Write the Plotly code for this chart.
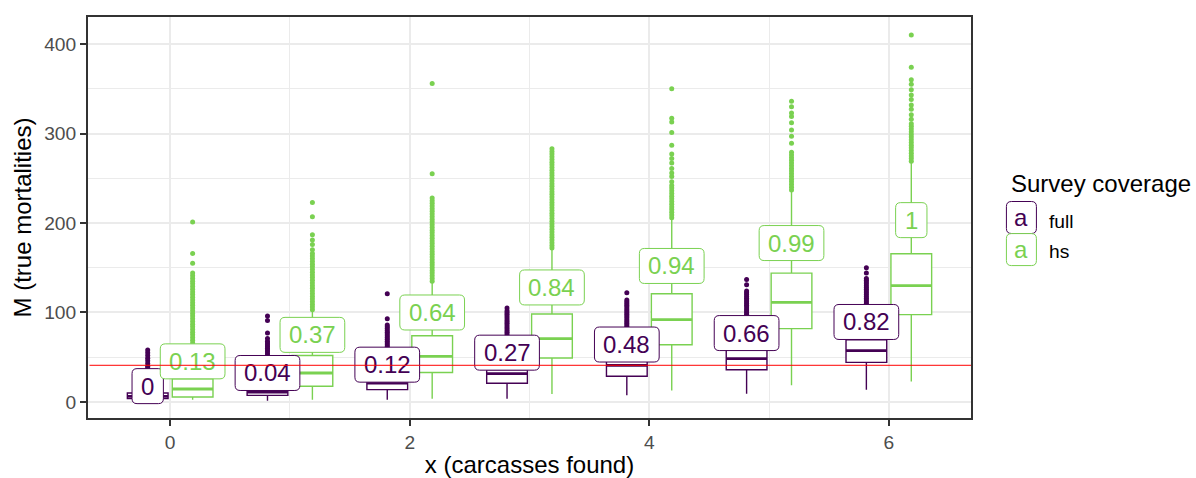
import plotly.graph_objects as go

# ---------------- data ----------------
x_vals = [0, 1, 2, 3, 4, 5, 6]
x_ticks = [0, 2, 4, 6]
y_ticks = [0, 100, 200, 300, 400]
y_minor = [50, 150, 250, 350]
x_minor = [1, 3, 5]

# full coverage box stats
full_q1 = [3.7, 7.4, 13.8, 21, 28.7, 36.1, 44.3]
full_med = [6.3, 11, 21, 31.7, 41, 48.4, 57.4]
full_q3 = [10, 16, 28, 36, 46, 58.5, 69.6]
full_lo = [0, 1.5, 2.6, 3.7, 7.4, 9.3, 13.8]
full_hi = [19, 29, 49, 58, 74, 92, 107]

# hs coverage box stats
hs_q1 = [5.6, 17.5, 33, 49.2, 64, 82, 97.6]
hs_med = [14.5, 32.4, 51, 70.8, 92, 111.4, 130]
hs_q3 = [26, 52, 74, 98.3, 121, 144, 165.7]
hs_lo = [2.6, 2.6, 3.7, 9, 12.7, 18.6, 23]
hs_hi = [56, 101, 133, 170, 204, 235, 267]

# outliers
full_out = [
    [20, 22, 24, 26, 28, 30, 32, 34, 36, 38, 40, 43, 46, 49, 52, 55, 58],
    [30, 32, 34, 36, 38, 40, 42, 44, 46, 48, 50, 52, 54, 56, 58, 60, 62, 64, 66, 68, 71, 77, 91, 96],
    [50, 52, 54, 56, 58, 60, 62, 64, 66, 68, 70, 72, 74, 76, 78, 80, 82, 84, 86, 93, 121],
    [60, 62, 64, 66, 68, 70, 72, 74, 76, 78, 80, 82, 84, 86, 88, 90, 92, 94, 96, 98, 100, 102, 105],
    [76, 78, 80, 82, 84, 86, 88, 90, 92, 94, 96, 98, 100, 102, 104, 106, 108, 110, 112, 114, 122],
    [94, 96, 98, 100, 102, 104, 106, 108, 110, 112, 114, 116, 118, 120, 122, 124, 131, 137],
    [108, 110, 112, 114, 116, 118, 120, 122, 124, 126, 128, 130, 132, 134, 136, 138, 144, 150],
]
hs_out = [
    [57, 60, 63, 66, 69, 72, 75, 78, 81, 84, 87, 90, 93, 96, 99, 102, 105, 108, 111, 114, 117,
     120, 123, 126, 129, 132, 135, 138, 141, 144, 155, 166, 201],
    [103, 106, 109, 112, 115, 118, 121, 124, 127, 130, 133, 136, 139, 142, 145, 148, 151, 154,
     157, 160, 163, 166, 170, 176, 181, 187, 207, 223],
    [135, 138, 141, 144, 147, 150, 153, 156, 159, 162, 165, 168, 171, 174, 177, 180, 183, 186,
     189, 192, 195, 198, 201, 204, 207, 210, 213, 216, 219, 222, 225, 228, 255, 356],
    [172, 175, 178, 181, 184, 187, 190, 193, 196, 199, 202, 205, 208, 211, 214, 217, 220, 223,
     226, 229, 232, 235, 238, 241, 244, 247, 250, 253, 256, 259, 262, 265, 268, 271, 274, 277,
     280, 283],
    [206, 209, 212, 215, 218, 221, 224, 227, 230, 233, 236, 239, 242, 246, 252, 256, 261, 267,
     272, 277, 287, 301, 313, 317, 350],
    [237, 240, 243, 246, 249, 252, 255, 258, 261, 264, 267, 270, 273, 276, 279, 289, 297, 304,
     312, 319, 323, 330, 336],
    [269, 272, 275, 278, 281, 284, 287, 290, 293, 296, 299, 302, 305, 308, 311, 316, 321, 327,
     332, 338, 343, 349, 355, 360, 374, 410],
]

# probability labels
full_labels = ["0", "0.04", "0.12", "0.27", "0.48", "0.66", "0.82"]
full_label_y = [17.7, 32.4, 41.7, 55.1, 64.2, 77, 89.4]
hs_labels = ["0.13", "0.37", "0.64", "0.84", "0.94", "0.99", "1"]
hs_label_y = [45.4, 75, 100, 128, 152, 177.6, 203.2]

ref_line = 41
series_names = ["full", "hs"]
legend_title = "Survey coverage"

# ---------------- style ----------------
PURPLE = "#440154"
GREEN = "#7AD151"
FONT = "Liberation Sans, Arial, sans-serif"
DODGE = 0.1875
BOXW = 0.34
XR = [-0.686, 6.686]
YR = [-17.9, 430.2]
LAB_H = 35
RADIUS = 5

fig = go.Figure()

groups = [
    (PURPLE, -1, full_q1, full_med, full_q3, full_lo, full_hi, full_out, full_labels, full_label_y),
    (GREEN, 1, hs_q1, hs_med, hs_q3, hs_lo, hs_hi, hs_out, hs_labels, hs_label_y),
]

annotations = []
shapes = []


def text_w(s):
    return sum(6.67 if c == "." else 13.35 for c in s)


def round_rect(w, h, r):
    a, b = w / 2, h / 2
    return (f"M {-a + r},{-b} L {a - r},{-b} Q {a},{-b} {a},{-b + r} "
            f"L {a},{b - r} Q {a},{b} {a - r},{b} L {-a + r},{b} "
            f"Q {-a},{b} {-a},{b - r} L {-a},{-b + r} Q {-a},{-b} {-a + r},{-b} Z")


for col, sign, q1, med, q3, lo, hi, outs, labs, laby in groups:
    pos = [x + sign * DODGE for x in x_vals]
    fig.add_trace(go.Box(
        x=pos, q1=q1, median=med, q3=q3, lowerfence=lo, upperfence=hi,
        width=BOXW, line=dict(color=col, width=1.4), fillcolor="white",
        whiskerwidth=0, boxpoints=False, showlegend=False, hoverinfo="skip",
        orientation="v",
    ))
    mx, my = [], []
    for p, m in zip(pos, med):
        mx += [p - BOXW / 2, p + BOXW / 2, None]
        my += [m, m, None]
    fig.add_trace(go.Scatter(x=mx, y=my, mode="lines", line=dict(color=col, width=2.8),
                             showlegend=False, hoverinfo="skip"))
    ox, oy = [], []
    for p, vals in zip(pos, outs):
        ox += [p] * len(vals)
        oy += vals
    fig.add_trace(go.Scatter(x=ox, y=oy, mode="markers",
                             marker=dict(color=col, size=5, line=dict(width=0)),
                             showlegend=False, hoverinfo="skip"))
    for p, t, ly in zip(pos, labs, laby):
        w = text_w(t) + 18
        shapes.append(dict(
            type="path", xref="x", yref="y", xsizemode="pixel", ysizemode="pixel",
            xanchor=p, yanchor=ly, path=round_rect(w, LAB_H, RADIUS),
            fillcolor="white", line=dict(color=col, width=1), layer="above",
        ))
        annotations.append(dict(
            x=p, y=ly, xref="x", yref="y", text=t, showarrow=False,
            font=dict(size=24, color=col, family=FONT),
            xanchor="center", yanchor="middle",
        ))

# reference line drawn on top of everything (as an annotation arrow)
annotations.append(dict(
    x=XR[1], y=ref_line, xref="x", yref="y", ax=XR[0], ay=ref_line, axref="x", ayref="y",
    text="", showarrow=True, arrowhead=0, arrowwidth=1, arrowcolor="#FF0000",
    standoff=0, startstandoff=0, font=dict(size=1),
))

# manual legend (label-style keys)
key_cols = [PURPLE, GREEN]
key_y = [0.5, 0.42]
text_y = [0.490, 0.416]
annotations.append(dict(
    x=1.0431, y=0.586, xref="paper", yref="paper", text=legend_title, showarrow=False,
    xanchor="left", yanchor="middle", font=dict(size=24, color="black", family=FONT)))
for col, ky, ty, nm in zip(key_cols, key_y, text_y, series_names):
    shapes.append(dict(
        type="path", xref="paper", yref="paper", xsizemode="pixel", ysizemode="pixel",
        xanchor=1.0571, yanchor=ky, path=round_rect(30, 32, RADIUS),
        fillcolor="white", line=dict(color=col, width=1), layer="above",
    ))
    annotations.append(dict(
        x=1.0571, y=ky, xref="paper", yref="paper", text="a", showarrow=False,
        xanchor="center", yanchor="middle", font=dict(size=24, color=col, family=FONT)))
    annotations.append(dict(
        x=1.0858, y=ty, xref="paper", yref="paper", text=nm, showarrow=False,
        xanchor="left", yanchor="middle", font=dict(size=19.2, color="black", family=FONT)))

fig.update_layout(
    width=1196, height=478,
    margin=dict(l=88, r=225, t=17, b=60, autoexpand=False),
    paper_bgcolor="white", plot_bgcolor="white",
    font=dict(family=FONT),
    showlegend=False,
    annotations=annotations,
    shapes=shapes,
)

axis_common = dict(
    ticks="outside", ticklen=6, tickwidth=2, tickcolor="#333333",
    tickfont=dict(size=19.2, color="#4D4D4D", family=FONT),
    showgrid=True, gridcolor="#EBEBEB", gridwidth=2.3,
    showline=True, linecolor="#333333", linewidth=2, mirror=True, zeroline=False,
    automargin=False,
)

fig.update_xaxes(
    range=XR, tickvals=x_ticks,
    minor=dict(tickvals=x_minor, showgrid=True, gridcolor="#EBEBEB", gridwidth=1.2, ticks=""),
    title=dict(text="x (carcasses found)", font=dict(size=24, color="black", family=FONT),
               standoff=6),
    **axis_common,
)
fig.update_yaxes(
    range=YR, tickvals=y_ticks,
    minor=dict(tickvals=y_minor, showgrid=True, gridcolor="#EBEBEB", gridwidth=1.2, ticks=""),
    title=dict(text="M (true mortalities)", font=dict(size=24, color="black", family=FONT),
               standoff=6),
    **axis_common,
)

fig.write_html("out.html", config={"displayModeBar": False},
               post_script="document.body.style.margin='0px';")
